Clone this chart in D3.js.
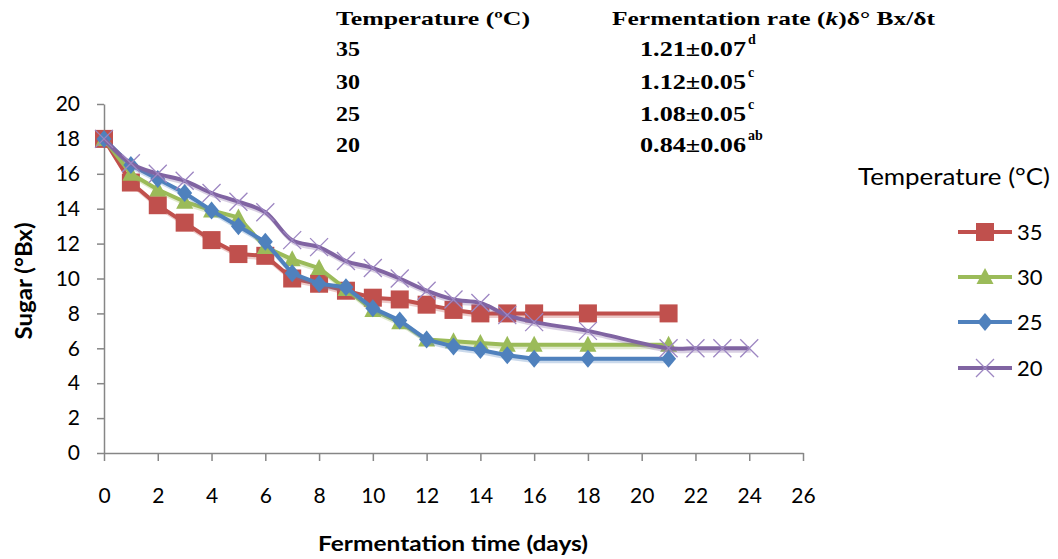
<!DOCTYPE html>
<html lang="en">
  <head>
    <meta charset="UTF-8" />
    <title>Sugar vs fermentation time</title>
    <script src="https://cdn.jsdelivr.net/npm/d3@7"></script>
    <style>
      body { margin: 0; background: #fff; }
    </style>
  </head>
  <body>
    <div id="svgCanvas"></div>
    <script>
      // data
      var days = [0, 1, 2, 3, 4, 5, 6, 7, 8, 9, 10, 11, 12, 13, 14, 15, 16, 18, 21];
      var days20 = [0, 1, 2, 3, 4, 5, 6, 7, 8, 9, 10, 11, 12, 13, 14, 15, 16, 18, 21, 22, 23, 24];
      var sugar35 = [18, 15.5, 14.2, 13.2, 12.2, 11.4, 11.3, 10.0, 9.7, 9.3, 8.9, 8.8, 8.5, 8.2, 8.0, 8.0, 8.0, 8.0, 8.0];
      var sugar30 = [18, 16.0, 15.1, 14.4, 13.9, 13.5, 11.8, 11.1, 10.6, 9.4, 8.2, 7.5, 6.5, 6.4, 6.3, 6.2, 6.2, 6.2, 6.2];
      var sugar25 = [18, 16.5, 15.7, 14.9, 13.9, 13.0, 12.1, 10.3, 9.7, 9.5, 8.3, 7.6, 6.5, 6.1, 5.9, 5.6, 5.4, 5.4, 5.4];
      var sugar20 = [18, 16.6, 16.0, 15.6, 14.9, 14.4, 13.8, 12.2, 11.8, 11.0, 10.6, 10.0, 9.3, 8.8, 8.6, 7.9, 7.5, 7.0, 6.0, 6.0, 6.0, 6.0];

      var temps = ["35", "30", "25", "20"];
      var rates = ["1.21\u00b10.07", "1.12\u00b10.05", "1.08\u00b10.05", "0.84\u00b10.06"];
      var rateLetters = ["d", "c", "c", "ab"];

      var xTicks = d3.range(0, 27, 2);
      var yTicks = d3.range(0, 21, 2);

      var width = 1058,
        height = 559;

      var canvas = d3
        .select("#svgCanvas")
        .append("svg")
        .attr("width", width)
        .attr("height", height);

      var x = d3.scaleLinear().domain([0, 26]).range([104, 803]);
      var y = d3.scaleLinear().domain([0, 20]).range([453, 104]);

      var axisColor = "#868686";
      var sans = "Lato, 'Open Sans', sans-serif";
      var serif = "'Liberation Serif', 'Times New Roman', serif";

      // axes
      var gY = canvas
        .append("g")
        .attr("transform", "translate(" + x(0) + ",0)")
        .call(d3.axisLeft(y).tickValues(yTicks).tickSize(7).tickSizeOuter(0).tickPadding(17));
      var gX = canvas
        .append("g")
        .attr("transform", "translate(0," + y(0) + ")")
        .call(d3.axisBottom(x).tickValues(xTicks).tickSize(8).tickSizeOuter(0));

      [gX, gY].forEach(function(g) {
        g.select(".domain").attr("stroke", axisColor).attr("stroke-width", 1.5);
        g.selectAll(".tick line").attr("stroke", axisColor).attr("stroke-width", 1.5);
        g.selectAll(".tick text")
          .attr("fill", "#000")
          .style("font-family", sans)
          .style("font-size", "21px");
      });
      gX.selectAll(".tick text").attr("y", 35);

      // axis titles
      canvas
        .append("text")
        .attr("transform", "translate(32,281) rotate(-90)")
        .attr("text-anchor", "middle")
        .attr("textLength", 117)
        .attr("lengthAdjust", "spacingAndGlyphs")
        .style("font-family", sans)
        .style("font-size", "22px")
        .style("font-weight", "bold")
        .text("Sugar (\u00b0Bx)");
      canvas
        .append("text")
        .attr("x", 318)
        .attr("y", 551)
        .attr("textLength", 270)
        .attr("lengthAdjust", "spacingAndGlyphs")
        .style("font-family", sans)
        .style("font-size", "21px")
        .style("font-weight", "bold")
        .text("Fermentation time (days)");

      // series
      var series = [
        { name: "35", xs: days, ys: sugar35, color: "#C0504D", marker: "square", curve: d3.curveLinear },
        { name: "30", xs: days, ys: sugar30, color: "#9BBB59", marker: "triangle", curve: d3.curveLinear },
        { name: "25", xs: days, ys: sugar25, color: "#4F81BD", marker: "diamond", curve: d3.curveLinear },
        { name: "20", xs: days20, ys: sugar20, color: "#8064A2", marker: "cross", curve: d3.curveCatmullRom.alpha(0.5) }
      ];

      function drawMarker(g, type, color) {
        if (type == "square") {
          g.append("rect").attr("x", -9).attr("y", -9).attr("width", 18).attr("height", 18).attr("fill", color);
        } else if (type == "triangle") {
          g.append("path").attr("d", "M0,-9L8.5,7L-8.5,7Z").attr("fill", color);
        } else if (type == "diamond") {
          g.append("path").attr("d", "M0,-9L7.5,0L0,9L-7.5,0Z").attr("fill", color);
        } else {
          g.append("path")
            .attr("d", "M-9,-9L9,9M-9,9L9,-9")
            .attr("stroke", "#9d86c2")
            .attr("stroke-width", 1.3)
            .attr("fill", "none");
        }
      }

      series.forEach(function(s) {
        var pts = s.xs.map(function(d, i) {
          return [d, s.ys[i]];
        });
        var line = d3
          .line()
          .curve(s.curve)
          .x(function(d) {
            return x(d[0]);
          })
          .y(function(d) {
            return y(d[1]);
          });

        var g = canvas.append("g");
        // soft shadow under the line
        g.append("path")
          .attr("d", line(pts))
          .attr("transform", "translate(1.5,2.5)")
          .attr("fill", "none")
          .attr("stroke", s.color)
          .attr("stroke-opacity", 0.3)
          .attr("stroke-width", 4);
        g.append("path")
          .attr("d", line(pts))
          .attr("fill", "none")
          .attr("stroke", s.color)
          .attr("stroke-width", 4)
          .attr("stroke-linejoin", "round");

        pts.forEach(function(p) {
          var m = g.append("g").attr("transform", "translate(" + x(p[0]) + "," + y(p[1]) + ")");
          drawMarker(m, s.marker, s.color);
        });
      });

      // legend
      canvas
        .append("text")
        .attr("x", 858)
        .attr("y", 185)
        .attr("textLength", 192)
        .attr("lengthAdjust", "spacingAndGlyphs")
        .style("font-family", sans)
        .style("font-size", "23px")
        .attr("fill", "#000")
        .text("Temperature (\u00b0C)");

      var legendY = [232, 277, 322, 368];
      series.forEach(function(s, i) {
        var lg = canvas.append("g").attr("transform", "translate(0," + legendY[i] + ")");
        lg.append("line")
          .attr("x1", 958)
          .attr("x2", 1012)
          .attr("stroke", s.color)
          .attr("stroke-width", 4);
        var m = lg.append("g").attr("transform", "translate(985,0)");
        drawMarker(m, s.marker, s.color);
        lg.append("text")
          .attr("x", 1017)
          .attr("dy", "0.35em")
          .style("font-family", sans)
          .style("font-size", "22px")
          .text(s.name);
      });

      // rate table at the top
      var table = canvas
        .append("g")
        .style("font-family", serif)
        .style("font-weight", "bold")
        .style("font-size", "19px")
        .attr("fill", "#000");

      table
        .append("text")
        .attr("x", 336)
        .attr("y", 25)
        .attr("textLength", 194)
        .attr("lengthAdjust", "spacingAndGlyphs")
        .text("Temperature (\u00baC)");

      var head = table
        .append("text")
        .attr("x", 612)
        .attr("y", 25)
        .attr("textLength", 323)
        .attr("lengthAdjust", "spacingAndGlyphs");
      head.append("tspan").text("Fermentation rate (");
      head.append("tspan").style("font-style", "italic").text("k");
      head.append("tspan").text(")\u03b4\u00b0 Bx/\u03b4t");

      var rowY = [56, 89, 121, 152];
      temps.forEach(function(t, i) {
        table
          .append("text")
          .attr("x", 336)
          .attr("y", rowY[i])
          .attr("textLength", 24)
          .attr("lengthAdjust", "spacingAndGlyphs")
          .style("font-size", "21px")
          .text(t);
        table
          .append("text")
          .attr("x", 640)
          .attr("y", rowY[i])
          .attr("textLength", 106)
          .attr("lengthAdjust", "spacingAndGlyphs")
          .style("font-size", "22px")
          .text(rates[i]);
        table
          .append("text")
          .attr("x", 748)
          .attr("y", rowY[i] - 12)
          .style("font-size", "14px")
          .text(rateLetters[i]);
      });
    </script>
  </body>
</html>
